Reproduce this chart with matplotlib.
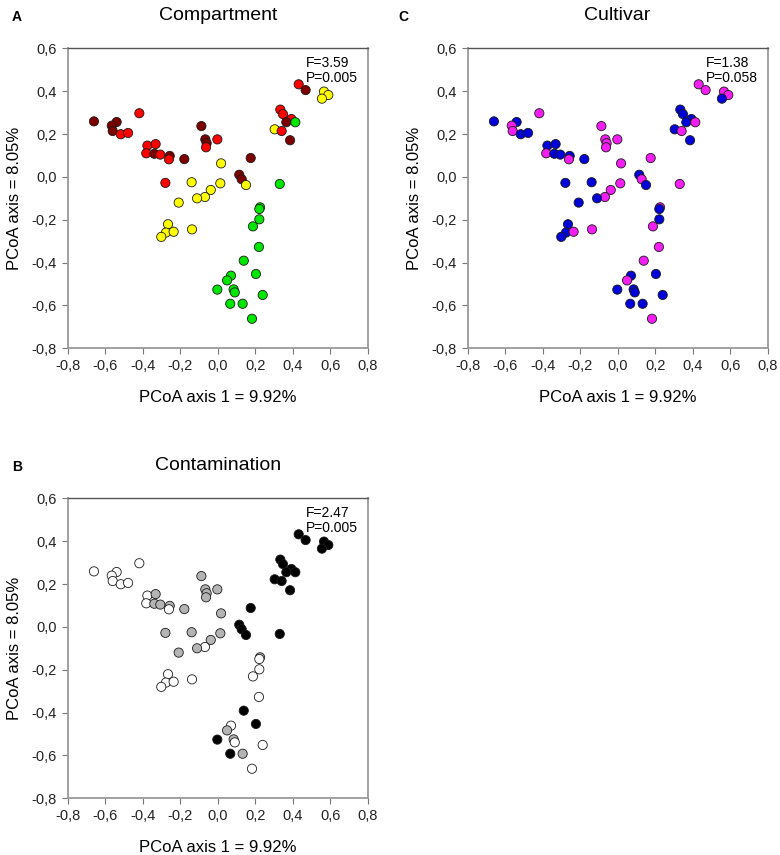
import matplotlib.pyplot as plt
from matplotlib.ticker import FuncFormatter

plt.rcParams['font.family'] = ['Liberation Sans', 'DejaVu Sans']

# PCoA coordinates (same samples in every panel)
pc1 = [-0.660, -0.539, -0.565, -0.560, -0.517, -0.478, -0.418, -0.375, -0.331, -0.381,
       -0.338, -0.306, -0.256, -0.260, -0.178, -0.279, -0.087, -0.066, -0.059, -0.062,
       -0.002, 0.018, 0.176, 0.115, 0.128, 0.151, -0.139, 0.014, -0.037, -0.068,
       -0.110, -0.208, 0.432, 0.469, 0.567, 0.590, 0.556, 0.334, 0.348, 0.393,
       0.366, 0.414, 0.304, 0.341, 0.386, 0.331, 0.226, 0.222, 0.222, 0.188,
       0.220, 0.139, 0.204, 0.071, 0.050, -0.002, 0.085, 0.091, 0.240, 0.067,
       0.133, 0.183, -0.265, -0.276, -0.235, -0.301, -0.137]
pc2 = [0.259, 0.256, 0.239, 0.214, 0.199, 0.205, 0.297, 0.146, 0.153, 0.110,
       0.108, 0.104, 0.098, 0.082, 0.083, -0.028, 0.237, 0.175, 0.157, 0.138,
       0.175, 0.063, 0.088, 0.010, -0.011, -0.038, -0.025, -0.030, -0.061, -0.094,
       -0.100, -0.120, 0.432, 0.405, 0.398, 0.382, 0.365, 0.314, 0.293, 0.270,
       0.255, 0.255, 0.222, 0.214, 0.171, -0.033, -0.142, -0.150, -0.198, -0.231,
       -0.327, -0.391, -0.453, -0.461, -0.483, -0.526, -0.525, -0.539, -0.551, -0.592,
       -0.592, -0.662, -0.221, -0.260, -0.256, -0.280, -0.245]

# Compartment per sample (D=dark red, R=red, Y=yellow, G=green)
compartment = list("DDDDRRRRRR" "DRDRDRDDDR" "RYDDDYYYYY" "YYRDYYYRRR"
                   "DGYRDGGGGG" "GGGGGGGGGG" "GGYYYYY")
# Cultivar per sample (b=blue, m=magenta)
cultivar = list("bbmmbbmbbm" "bbbmbbmmmm" "mmmbmbbmmm" "bbmmmmbbbb"
                "bmbmbmmbbm" "mmbbmbbbbb" "bmbbmbm")
# Contamination per sample (w=white, g=gray, k=black)
contamination = list("wwwwwwwwgw" "gggwgggggg" "ggkkkkgggw" "ggkkkkkkkk"
                     "kkkkkkgwww" "wkkwgkgwwk" "gwwwwww")

comp_colors = {"D": "#7d0000", "R": "#ff0000", "Y": "#ffff00", "G": "#00e600"}
cult_colors = {"b": "#0000d8", "m": "#f21ef2"}
cont_colors = {"w": "#ffffff", "g": "#b4b4b4", "k": "#000000"}

# letter, title, groups, colours, stats, axes left, axes bottom, letter x
panels = [
    ("A", "Compartment", compartment, comp_colors, "F=3.59\nP=0.005", 0.0868, 0.5926, 0.0148),
    ("C", "Cultivar", cultivar, cult_colors, "F=1.38\nP=0.058", 0.5996, 0.5926, 0.5110),
    ("B", "Contamination", contamination, cont_colors, "F=2.47\nP=0.005", 0.0868, 0.0663, 0.0160),
]

fig = plt.figure(figsize=(7.8, 8.55), dpi=100)
fmt = FuncFormatter(lambda v, p: f"{v:.1f}".replace(".", ","))

for letter, title, groups, cmap, stat, left, bottom, lx in panels:
    ax = fig.add_axes([left, bottom, 0.3846, 0.3509])
    cols = [cmap[g] for g in groups]
    ax.scatter(pc1, pc2, s=44, c=cols, edgecolors="#1a1a1a", linewidths=0.6, zorder=3)
    ax.set_xlim(-0.8, 0.8)
    ax.set_ylim(-0.8, 0.6)
    ax.set_xticks([-0.8, -0.6, -0.4, -0.2, 0.0, 0.2, 0.4, 0.6, 0.8])
    ax.set_yticks([-0.8, -0.6, -0.4, -0.2, 0.0, 0.2, 0.4, 0.6])
    ax.xaxis.set_major_formatter(fmt)
    ax.yaxis.set_major_formatter(fmt)
    ax.tick_params(direction="out", length=4.5, width=0.8, color="#777777",
                   labelsize=10.5, pad=3.5, labelcolor="#222222")
    for side in ["left", "bottom", "right"]:
        ax.spines[side].set_color("#9a9a9a")
        ax.spines[side].set_linewidth(1.3)
    ax.spines["top"].set_color("#555555")
    ax.spines["top"].set_linewidth(1.0)
    ax.text(0.5, 1.094, title, transform=ax.transAxes, ha="center", va="baseline",
            fontsize=14)
    ax.text(0.5, -0.178, "PCoA axis 1 = 9.92%", transform=ax.transAxes,
            ha="center", va="baseline", fontsize=12)
    ax.set_ylabel("PCoA axis = 8.05%", fontsize=12, labelpad=6.5)
    ax.text(0.471, 0.564, stat, ha="left", va="top", fontsize=10, linespacing=1.1)
    fig.text(lx, bottom + 0.3509 + 0.037, letter, fontsize=10,
             fontweight="bold", ha="left", va="center")

fig.savefig("out.png", dpi=100)
